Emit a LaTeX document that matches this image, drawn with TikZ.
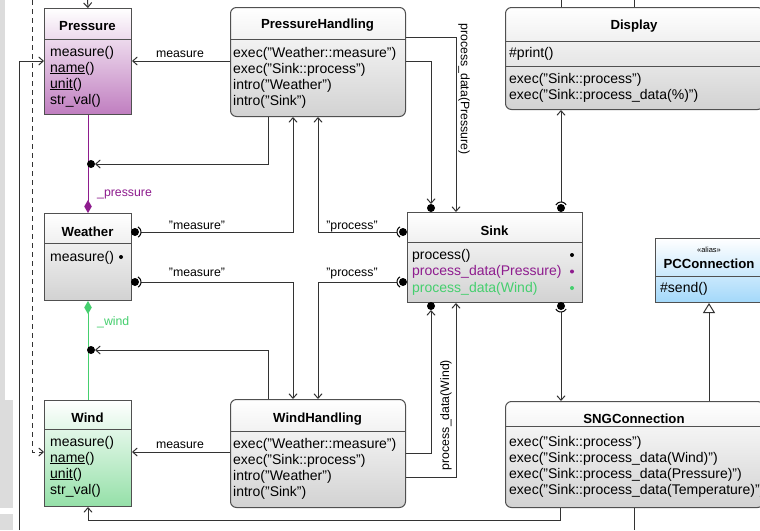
\documentclass[tikz,border=0pt]{standalone}
\usepackage{fontspec}
\setmainfont{Liberation Sans}
\usetikzlibrary{arrows.meta,calc}
\definecolor{edgeC}{HTML}{505050}
\definecolor{lineC}{HTML}{333333}
\definecolor{greyBot}{HTML}{D2D2D2}
\definecolor{purpBot}{HTML}{C07EC0}
\definecolor{greenBot}{HTML}{94E0A8}
\definecolor{blueBot}{HTML}{A3D8FA}
\definecolor{purpC}{HTML}{8E1C8E}
\definecolor{greenC}{HTML}{45CF6E}
\definecolor{stripC}{HTML}{DCDCDC}
\begin{document}
\begin{tikzpicture}[x=1pt,y=-1pt,
  box/.style={draw=edgeC, line width=1pt, inner sep=0, anchor=north west, shading=axis, top color=white},
  rbox/.style={box, rounded corners=6pt},
  sep/.style={draw=edgeC, line width=1pt},
  hdr/.style={font=\fontsize{13.2}{15}\selectfont\bfseries, inner sep=0, anchor=base},
  row/.style={font=\fontsize{14}{16}\selectfont, inner sep=0, anchor=base west},
  lbl/.style={font=\fontsize{12.3}{14}\selectfont, inner sep=0, anchor=base},
  conn/.style={draw=lineC, line width=1pt},
  arr/.style={conn, -{Straight Barb[length=4.5pt,width=8pt]}},
  ball/.style={fill=black},
  sock/.style={draw=black, line width=1pt}
]
\useasboundingbox (0,0) rectangle (760,530);
\clip (0,0) rectangle (760,530);
\fill[white] (0,0) rectangle (760,530);
% left strip
\fill[stripC] (0,0) rectangle (5,400);
\fill[stripC] (0,400) rectangle (13,508);
\fill[stripC] (0,514) rectangle (13,530);

% ---------- boxes ----------
\node[box, bottom color=purpBot, minimum width=87pt, minimum height=106pt] (pres) at (44,8) {};
\node[box, bottom color=greyBot, minimum width=87pt, minimum height=87pt] (weat) at (44,213) {};
\node[box, bottom color=greenBot, minimum width=87pt, minimum height=106pt] (wind) at (44,400) {};
\node[rbox, bottom color=greyBot, minimum width=175pt, minimum height=109pt] (ph) at (230,7) {};
\node[rbox, bottom color=greyBot, minimum width=175pt, minimum height=108pt] (wh) at (230,399) {};
\node[box, bottom color=greyBot, minimum width=175pt, minimum height=90pt] (sink) at (407,212) {};
\node[rbox, bottom color=greyBot, minimum width=258pt, minimum height=102pt] (disp) at (505,7) {};
\node[rbox, bottom color=greyBot, minimum width=258pt, minimum height=106pt] (sng) at (505,401) {};
\node[box, bottom color=blueBot, minimum width=108pt, minimum height=64pt] (pcc) at (655,238) {};

% separators
\draw[sep] (pres.west |- 0,39) -- (pres.east |- 0,39);
\draw[sep] (weat.west |- 0,243) -- (weat.east |- 0,243);
\draw[sep] (wind.west |- 0,429) -- (wind.east |- 0,429);
\draw[sep] (ph.west |- 0,39) -- (ph.east |- 0,39);
\draw[sep] (wh.west |- 0,431) -- (wh.east |- 0,431);
\draw[sep] (sink.west |- 0,242) -- (sink.east |- 0,242);
\draw[sep] (disp.west |- 0,41) -- (disp.east |- 0,41);
\draw[sep] (disp.west |- 0,66) -- (disp.east |- 0,66);
\draw[sep] (sng.west |- 0,426) -- (sng.east |- 0,426);
\draw[sep] (pcc.west |- 0,276) -- (pcc.east |- 0,276);

% ---------- texts ----------
\node[hdr] (presH) at (87.5,30) {Pressure};
\node[row] (presR1) at (50,56) {measure()};
\node[row] (presR2) at (50,72) {\underline{name}()};
\node[row] (presR3) at (50,88) {\underline{unit}()};
\node[row] (presR4) at (50,104) {str\_val()};

\node[hdr] (weatH) at (87.5,236) {Weather};
\node[row] (weatR1) at (50,261) {measure()};
\fill (121,257) circle (2pt);

\node[hdr] (windH) at (87.5,422) {Wind};
\node[row] (windR1) at (50,446) {measure()};
\node[row] (windR2) at (50,462) {\underline{name}()};
\node[row] (windR3) at (50,478) {\underline{unit}()};
\node[row] (windR4) at (50,494) {str\_val()};

\node[hdr] (phH) at (317.5,28.5) {PressureHandling};
\node[row] (phR1) at (233,57) {exec("Weather::measure")};
\node[row] (phR2) at (233,73.3) {exec("Sink::process")};
\node[row] (phR3) at (233,89.6) {intro("Weather")};
\node[row] (phR4) at (233,105.9) {intro("Sink")};

\node[hdr] (whH) at (317.5,422) {WindHandling};
\node[row] (whR1) at (233,448) {exec("Weather::measure")};
\node[row] (whR2) at (233,464.3) {exec("Sink::process")};
\node[row] (whR3) at (233,480.6) {intro("Weather")};
\node[row] (whR4) at (233,496.9) {intro("Sink")};

\node[hdr] (sinkH) at (494.5,235) {Sink};
\node[row] (sinkR1) at (412,259) {process()};
\node[row, text=purpC] (sinkR2) at (412,275.5) {process\_data(Pressure)};
\node[row, text=greenC] (sinkR3) at (412,292) {process\_data(Wind)};
\fill (572,255) circle (2pt);
\fill[purpC] (572,271.5) circle (2pt);
\fill[greenC] (572,288) circle (2pt);

\node[hdr] (dispH) at (634,29) {Display};
\node[row] (dispR1) at (509,57) {\#print()};
\node[row] (dispR2) at (509,83) {exec("Sink::process")};
\node[row] (dispR3) at (509,99.5) {exec("Sink::process\_data(\%)")};

\node[hdr] (sngH) at (634,423) {SNGConnection};
\node[row] (sngR1) at (509,446) {exec("Sink::process")};
\node[row] (sngR2) at (509,462.3) {exec("Sink::process\_data(Wind)")};
\node[row] (sngR3) at (509,478.6) {exec("Sink::process\_data(Pressure)")};
\node[row] (sngR4) at (509,494.9) {exec("Sink::process\_data(Temperature)")};

\node[inner sep=0, anchor=base, font=\fontsize{7.5}{9}\selectfont] (pccS) at (709,252) {«alias»};
\node[hdr] (pccH) at (709,268) {PCConnection};
\node[row] (pccR1) at (660,292) {\#send()};

% ---------- ball positions ----------
\coordinate (wb1) at (135,232);
\coordinate (wb2) at (135,282);
\coordinate (sl1) at (403,232);
\coordinate (sl2) at (403,282);
\coordinate (st1) at (431,208);
\coordinate (st2) at (561,208);
\coordinate (sb1) at (431,306);
\coordinate (sb2) at (561,306);
\coordinate (pb) at (91,164);
\coordinate (wdb) at (91,350);

% ---------- connectors ----------
% composition lines
\draw[purpC, line width=1pt, -{Diamond[length=13pt,width=7.5pt]}] (pres.south) -- (weat.north);
\draw[greenC, line width=1pt, -{Diamond[length=13pt,width=7.5pt]}] (wind.north) -- (weat.south);
\node[lbl, text=purpC, anchor=base west] (lp) at (97,196) {\_pressure};
\node[lbl, text=greenC, anchor=base west] (lw) at (97,325) {\_wind};

% left side lines
\draw[arr] (87.5,0) -- (pres.north);
\draw[arr] (19,530) |- (pres.west |- 0,61);
\draw[arr, dash pattern=on 5pt off 4pt] (32,0) |- (wind.west |- 0,452);

% PressureHandling connections
\draw[arr] (ph.west |- 0,61) -- (pres.east |- 0,61);
\node[lbl] (lm1) at (180,57.5) {measure};
\draw[arr] (ph.east |- 0,37) -| (456,0 |- sink.north);
\node[lbl, rotate=-90, anchor=center] (lpp) at (464,89) {process\_data(Pressure)};
\draw[arr] (ph.east |- 0,61) -| ([yshift=4pt]st1);
\draw[arr] (268,0 |- ph.south) |- ([xshift=4pt]pb);

% Weather/Sink to PressureHandling
\draw[arr] ([xshift=6pt]wb1) -| (293,0 |- ph.south);
\draw[arr] ([xshift=-6pt]sl1) -| (318,0 |- ph.south);
\node[lbl] (lm2) at (197,229) {"measure"};
\node[lbl] (lpr1) at (352,229) {"process"};
% Weather/Sink to WindHandling
\draw[arr] ([xshift=6pt]wb2) -| (293,0 |- wh.north);
\draw[arr] ([xshift=-6pt]sl2) -| (318,0 |- wh.north);
\node[lbl] (lm3) at (197,276) {"measure"};
\node[lbl] (lpr2) at (352,276) {"process"};

% WindHandling connections
\draw[arr] (268,0 |- wh.north) |- ([xshift=4pt]wdb);
\draw[arr] (wh.west |- 0,452) -- (wind.east |- 0,452);
\node[lbl] (lm4) at (180,448) {measure};
\draw[arr] (wh.east |- 0,453) -| ([yshift=-4pt]sb1);
\draw[arr] (wh.east |- 0,477) -| (456,0 |- sink.south);
\node[lbl, rotate=90, anchor=center] (lpw) at (446,415) {process\_data(Wind)};

% Display / SNG
\draw[conn] (561,0) -- (561,0 |- disp.north);
\draw[conn] (634,0) -- (634,0 |- disp.north);
\draw[arr] ([yshift=6pt]st2) -- (561,0 |- disp.south);
\draw[arr] ([yshift=-6pt]sb2) -- (561,0 |- sng.north);
\draw[conn, -{Triangle[open,length=10pt,width=12pt,fill=white]}] (709,0 |- sng.north) -- (709,0 |- pcc.south);
\draw[arr] (560,0 |- sng.south) |- (wind.south |- 0,520) -- (wind.south);
\draw[conn] (634,0 |- sng.south) -- (634,530);

% balls and sockets
\foreach \b in {wb1,wb2,sl1,sl2,st1,st2,sb1,sb2,pb,wdb} {\fill[ball] (\b) circle (4pt);}
\draw[sock] ([shift={(-60:6pt)}]wb1) arc[start angle=-60,end angle=60,radius=6pt];
\draw[sock] ([shift={(-60:6pt)}]wb2) arc[start angle=-60,end angle=60,radius=6pt];
\draw[sock] ([shift={(120:6pt)}]sl1) arc[start angle=120,end angle=240,radius=6pt];
\draw[sock] ([shift={(120:6pt)}]sl2) arc[start angle=120,end angle=240,radius=6pt];
\draw[sock] ([shift={(30:6pt)}]st2) arc[start angle=30,end angle=150,radius=6pt];
\draw[sock] ([shift={(210:6pt)}]sb2) arc[start angle=210,end angle=330,radius=6pt];
\end{tikzpicture}
\end{document}
